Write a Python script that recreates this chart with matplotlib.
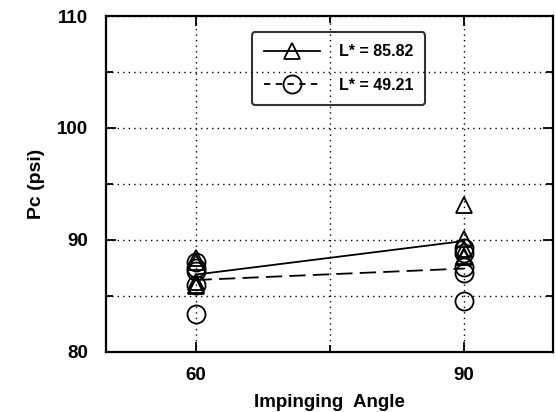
import numpy as np
import matplotlib
matplotlib.use('Agg')
from matplotlib import pyplot as plt
from matplotlib.ticker import MultipleLocator

angles = [60, 90]
hi_60 = [88.4, 88.0, 86.2, 85.9, 86.0]
hi_90 = [93.1, 90.1, 89.2, 88.6, 88.5]
lo_60 = [88.0, 87.5, 87.2, 86.0, 83.4]
lo_90 = [89.3, 88.8, 87.6, 87.0, 84.5]
labels = ['L* = 85.82', 'L* = 49.21']


def main():
    plt.rcParams['font.family'] = ['Liberation Sans', 'DejaVu Sans']
    plt.rcParams['font.weight'] = 'bold'
    fig = plt.figure(figsize=(5.56, 4.12), dpi=100)
    ax = fig.add_axes([0.191, 0.146, 0.804, 0.815])

    mfc = 'none'
    for a, vals in zip(angles, [hi_60, hi_90]):
        ax.plot([a] * len(vals), vals, ls='none', marker='^', ms=11, mfc=mfc, mec='k', mew=1.3)
    for a, vals in zip(angles, [lo_60, lo_90]):
        ax.plot([a] * len(vals), vals, ls='none', marker='o', ms=13, mfc=mfc, mec='k', mew=1.3)

    hi_mean = [np.mean(hi_60), np.mean(hi_90)]
    lo_mean = [np.mean(lo_60), np.mean(lo_90)]
    ax.plot(angles, hi_mean, 'k-', lw=1.3)
    ax.plot(angles, lo_mean, 'k', ls=(0, (9, 4)), lw=1.3)

    # legend proxies with markers in the middle
    h1, = ax.plot([], [], 'k-', lw=1.3, marker='^', ms=11, mfc=mfc, mec='k', mew=1.3)
    h2, = ax.plot([], [], 'k', ls=(0, (3.5, 3)), lw=1.3, marker='o', ms=13, mfc=mfc, mec='k', mew=1.3)
    leg = ax.legend([h1, h2], labels, loc='upper center', bbox_to_anchor=(0.52, 0.975),
                    handlelength=3.5, fontsize=11.5, frameon=True, fancybox=True,
                    borderpad=0.75, labelspacing=1.15, handletextpad=1.2)
    leg.get_frame().set_facecolor('none')
    leg.get_frame().set_edgecolor('k')
    leg.get_frame().set_linewidth(1.5)

    ax.set_xlim(50, 100)
    ax.set_ylim(80, 110)
    ax.set_xticks([60, 90])
    ax.xaxis.set_minor_locator(MultipleLocator(15))
    ax.yaxis.set_major_locator(MultipleLocator(10))
    ax.yaxis.set_minor_locator(MultipleLocator(5))
    ax.grid(True, which='both', color='k', ls=(0, (1, 3)), lw=1.0)
    ax.tick_params(which='both', direction='in', top=True, right=True, labelsize=13.5, width=1.3)
    ax.tick_params(which='major', length=7)
    ax.tick_params(which='minor', length=5)
    ax.tick_params(axis='x', pad=11)
    ax.tick_params(axis='y', pad=13)
    for s in ax.spines.values():
        s.set_linewidth(1.6)

    ax.set_xlabel('Impinging  Angle', fontsize=13.5, fontweight='bold', labelpad=7)
    ax.set_ylabel('Pc (psi)', fontsize=14, fontweight='bold', labelpad=9)

    fig.savefig('out.png', dpi=100)


if __name__ == '__main__':
    main()
